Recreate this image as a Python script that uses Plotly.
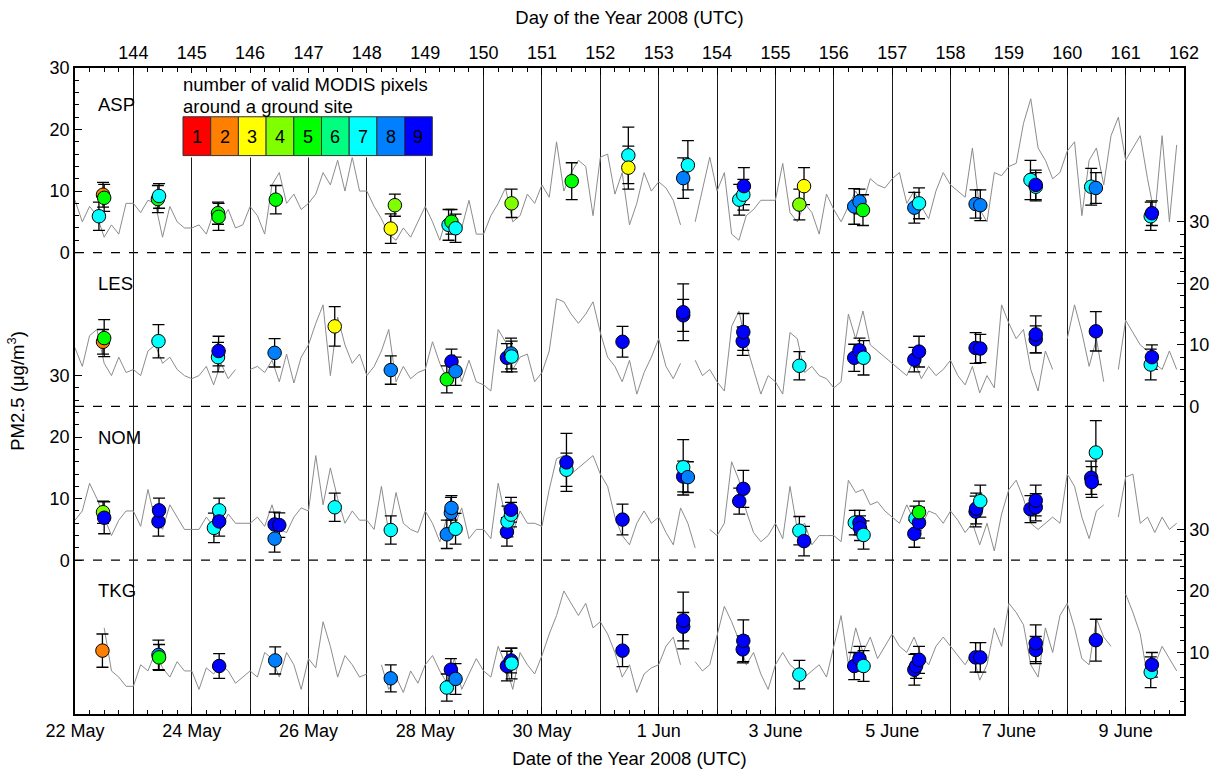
import plotly.graph_objects as go

# ---------------- data ----------------
SITES = ["ASP", "LES", "NOM", "TKG"]
PANEL_OFFSET = {"ASP": 75, "LES": 50, "NOM": 25, "TKG": 0}   # stacking offset of each panel (ug/m3)

NPIX_COLORS = ["#FF0000", "#FF8000", "#FFFF00", "#80FF00", "#00FF00",
               "#00FF80", "#00FFFF", "#0080FF", "#0000FF"]
NPIX_LABELS = ["1", "2", "3", "4", "5", "6", "7", "8", "9"]

DATE_TICK_DOY = [143, 145, 147, 149, 151, 153, 155, 157, 159, 161]
DATE_TICK_TEXT = ["22 May", "24 May", "26 May", "28 May", "30 May",
                  "1 Jun", "3 June", "5 June", "7 June", "9 June"]
DOY_TICKS = list(range(144, 163))
X_START, X_END = 143.0, 162.0

# ground-based PM2.5, 3-hourly from 22 May 00 UTC (day of year 143)
SERIES_START = 143.0
SERIES_STEP_DAYS = 0.125
asp_pm = [8.5, 5, 7.5, 6, 2.5, 4.5, 3, 8,
          8, 6.5, 8.5, 8, 2.5, 7.5, 5, 4,
          4, 4.5, 3, 6.5, 5, 7, 4, 4.5,
          7.5, 6, 3, 11, 13, 8, 9.5, 7,
          8, 9.5, 13, 11, 15, 10, 15.5, 10,
          10, 7.5, 5.5, 3, 2, 4, 2.5, 5,
          7.5, 5, 2, 6, 3, 4, 8.5, 3,
          3, 6, 8, 10.5, 5, 6, 9.5, 8,
          11, 9, 18, 10, 13, 15, 14, 6,
          15.5, 16, 9.5, 13, 4.5, 8, 13, 10,
          11.5, 10.5, 8.5, 4.5, None, 5, 10, 15.5,
          10, 13, 3, 2, 6, 7, 8.5, 8.5,
          8.5, 14.5, 6.5, 5, 8, 6.5, 3, 9.5,
          7, 5, 7.5, 10, 8, 12, 11, 10.5,
          12, 13, 8, 10, 7.5, 5.5, 10, 13,
          11, 10, 9, 17, 7, 5, 13, 12.5,
          14, 14.5, 21, 25, 17, 15, 12, 13,
          16.5, 18, 6, 15, 17, 11, 19, 22,
          15, 17, 19, 12, 6, 19, 5, 17.5]
les_pm = [9.5, 6.5, 11.5, 12.5, 7, 5, 8, 5.5,
          6, 5, 9, 10, 7, 8, 6, 5,
          4.5, 5, 6.5, 3.5, 7, 4.5, 6, None,
          6, 6.5, 5.5, 7.5, 4, 8.5, 3.8, 8,
          10, 13.5, 16.5, 5, 14.5, 10, 7, 8.5,
          5, 6.5, 9, 12.5, 4, 6.5, 4.5, 5.5,
          6, 10.5, 7, 4.5, 8.5, 4, 7.5, 4,
          3.5, 2.5, 12.5, 10.5, 6, 8, 8.5, 4,
          5.5, 9, 17.5, 17, 15, 13.5, 15, 17,
          12, 8, 6.5, 4, 7.5, 2, 5.5, 8,
          11, 6.5, 4.5, 7, None, 7.5, 5, 6,
          4, 2.5, 13, 15.5, 10, 6, 2, 5,
          4, 2, 12, 11, 5.5, 6.5, 5, 4.5,
          3, 4, 15, 11, 15.5, 10, 9, 8,
          7, 6, 5, 7.5, 4.5, 6.5, 5, 6,
          7.5, 5, 3.5, 6.5, 2.2, 5, 3, 16.5,
          13.5, 11, 12.5, 6, 2.5, 9, 6, None,
          11, 16.5, 12, 6.5, 11, 4, None, 6,
          14, 12, 10, 9, 7, 6, 9, 6]
nom_pm = [6.5, 8, 12.5, 10, 7, 4, 6.5, 8,
          8, 5.5, 11.5, 6.5, 5, 9, 7, 5,
          5, 5, 7, 5.5, 5, 7.5, 6, 6,
          6, 7, 5.5, 9, 5, 4.5, 7, 8.5,
          8, 17, 9, 15, 10, 6, 8, 6.5,
          6.5, 5, 12, 4.5, 11, 6, 5, 4.5,
          8, 6, 3, 7, 5.5, 8.5, 3.5, 5,
          5, 3.5, 12.5, 7, 4.5, 8, 6, 6,
          5.5, 11.5, 16.5, 17, 14, 15, 16, 17,
          14, 12, 7, 4, 2.5, 6, 8, 6,
          7, 4.5, 2.5, 8.5, 6, 2, None, 5,
          4, 6, 16, 13, 8, 4.5, 3, 4,
          6, 3.5, 12, 5, 6, 2.5, 4, 4,
          4, 3, 13, 11, 11.5, 9, 9.5, 8,
          7, 6, 9, 6.5, 5.5, 8, 7.5, 6,
          8, 6.5, 4.5, 6, 2.5, 6, 1.5, 7.5,
          11.5, 13, 10, 6, 5, 6, 7, 6,
          14, 12, 7, 3.5, 8, 9, None, 7,
          13.5, 14, 6, 7, 4.5, 7, 5, 6]
tkg_pm = [None, None, None, None, 14, 7, 6, 4.5,
          4.5, 8, 7, 10, 7.5, 6, 8.5, 7,
          7, 4, 7.5, 6.5, 8, 7, 5, 6,
          7, 6, 10, 9, 6, 10, 8, 4,
          9, 7.5, 15, 11, 6, 9.5, 8, 6,
          6.5, None, 8, 4, 6, 3.5, 7, 5,
          8, 9.5, 7, 5, 9, 4, 6.5, 9,
          7, 6, 11, 8, 4, 10, 8, 6.5,
          9.5, 13, 16, 20, 18, 16, 18, 14,
          15, 13, 10, 6, 8, 3.5, 6.5, 7.5,
          8, 11, 12.5, 8, None, 8.5, 7, 8,
          13, 17.5, 15, 12, 8, 10, 6.5, 4,
          8, 10, 8, 7, 6, 7, 8, 6,
          11, 16, 8, 14, 10, 12.5, 9, 11,
          13, 11, 10, 12.5, 9.5, 8, 11, 12.5,
          11, 9.5, 8, 10, 5.5, 8, 14, 11,
          18, 16.5, 14.5, 8, 6, 14, 10, 16,
          18, 14, 9, 8, 15.5, 12.5, 11, None,
          19.5, 16.5, 13, 6, 8, 11, 9, 7]

# MODIS-derived PM2.5 retrievals: time (day of year), value, error, number of valid pixels
asp_x = [143.41, 143.48, 143.50, 144.42, 144.44, 145.45, 145.46, 146.44, 148.41, 148.48,
         149.40, 149.45, 149.52, 150.48, 151.51, 152.48, 152.48, 153.42, 153.50,
         154.38, 154.45, 154.46, 155.41, 155.49, 156.35, 156.44, 156.50, 157.38, 157.46,
         158.43, 158.51, 159.37, 159.46, 159.46, 160.41, 160.49, 161.43, 161.45]
asp_val = [5.9, 9.4, 8.9, 8.7, 9.2, 6.4, 5.8, 8.6, 3.9, 7.7,
           4.5, 5.0, 3.95, 8.0, 11.6, 15.8, 13.8, 12.1, 14.2,
           8.6, 9.4, 10.8, 7.8, 10.8, 7.5, 8.3, 6.9, 7.3, 8.0,
           7.9, 7.7, 11.8, 10.7, 11.0, 10.7, 10.5, 5.9, 6.4]
asp_err = [2.3, 2.0, 2.2, 2.2, 2.0, 1.8, 2.2, 2.3, 2.4, 1.8,
           2.5, 2.0, 2.3, 2.3, 3.0, 4.6, 3.5, 3.3, 4.0,
           2.5, 2.5, 3.0, 2.5, 3.0, 2.9, 2.0, 2.5, 2.5, 2.5,
           2.3, 2.5, 3.2, 2.3, 2.4, 3.0, 2.5, 2.3, 2.0]
asp_npix = [7, 2, 5, 5, 7, 5, 5, 5, 3, 4,
            7, 5, 7, 4, 5, 7, 3, 8, 7,
            7, 7, 9, 4, 3, 8, 8, 5, 8, 7,
            8, 8, 7, 7, 9, 7, 8, 7, 9]

les_x = [143.48, 143.50, 144.43, 145.45, 145.46, 146.42, 147.45, 148.41,
         149.37, 149.45, 149.52, 150.40, 150.47, 150.48, 152.38, 153.42, 153.42,
         154.44, 154.45, 155.41, 156.35, 156.44, 156.51, 157.38, 157.46,
         158.43, 158.51, 159.46, 159.46, 160.49, 161.43, 161.45]
les_val = [10.5, 11.1, 10.6, 8.0, 9.0, 8.7, 13.0, 5.9,
           4.4, 7.3, 5.7, 7.9, 8.6, 8.1, 10.5, 14.8, 15.3,
           10.6, 12.1, 6.6, 7.9, 9.1, 7.9, 7.6, 8.9,
           9.5, 9.4, 10.9, 11.7, 12.2, 6.8, 8.0]
les_err = [2.0, 3.0, 2.7, 2.4, 2.4, 2.3, 3.2, 2.3,
           2.2, 2.0, 2.3, 2.3, 2.5, 2.5, 2.5, 2.6, 4.6,
           2.3, 3.0, 2.3, 2.2, 2.0, 2.8, 2.0, 2.5,
           2.5, 2.3, 2.2, 3.0, 3.2, 2.5, 2.0]
les_npix = [2, 5, 7, 7, 9, 8, 3, 8,
            5, 9, 8, 9, 8, 7, 9, 9, 9,
            9, 9, 7, 9, 9, 7, 9, 9,
            9, 9, 9, 9, 9, 7, 9]

nom_x = [143.48, 143.50, 144.43, 144.44, 145.38, 145.47, 145.47, 146.42, 146.50, 146.42,
         147.45, 148.41, 149.37, 149.44, 149.45, 149.52, 150.40, 150.41, 150.47, 150.47,
         151.42, 151.42, 152.38, 153.42, 153.42, 153.50, 154.38, 154.45, 155.41, 155.49,
         156.36, 156.44, 156.45, 156.51, 157.38, 157.40, 157.46, 157.46,
         158.43, 158.44, 158.51, 159.37, 159.46, 159.46, 160.41, 160.42, 160.49]
nom_val = [7.8, 6.9, 6.3, 8.1, 5.25, 8.1, 6.3, 5.8, 5.7, 3.5,
           8.6, 4.9, 4.2, 7.7, 8.5, 5.1, 4.6, 6.3, 7.4, 8.2,
           14.7, 15.9, 6.6, 13.6, 15.1, 13.5, 9.6, 11.6, 4.8, 3.1,
           6.1, 6.1, 5.2, 4.1, 4.3, 6.8, 6.1, 7.8,
           7.9, 8.4, 9.6, 8.3, 8.6, 9.7, 13.4, 12.7, 17.5]
nom_err = [1.8, 2.6, 2.4, 2.0, 2.4, 2.0, 2.4, 2.0, 2.0, 2.2,
           2.3, 2.3, 2.3, 2.5, 2.0, 2.5, 2.3, 2.5, 2.0, 2.0,
           2.7, 4.7, 2.5, 2.5, 4.5, 2.5, 2.1, 3.0, 2.3, 2.4,
           2.0, 2.0, 2.0, 2.3, 2.2, 2.0, 2.5, 1.8,
           2.5, 2.5, 2.6, 2.2, 2.2, 2.5, 2.7, 2.5, 5.2]
nom_npix = [4, 9, 9, 9, 7, 7, 9, 9, 9, 8,
            7, 7, 8, 8, 8, 7, 9, 7, 7, 9,
            7, 9, 9, 9, 7, 8, 9, 9, 7, 9,
            7, 9, 9, 7, 9, 7, 9, 5,
            9, 9, 7, 9, 9, 9, 9, 9, 7]

tkg_x = [143.47, 144.43, 144.44, 145.47, 146.43, 148.41,
         149.37, 149.44, 149.52, 150.40, 150.47, 150.48, 152.38, 153.42, 153.42,
         154.44, 154.45, 155.41, 156.35, 156.44, 156.51, 157.38, 157.41, 157.46,
         158.43, 158.51, 159.46, 159.46, 160.49, 161.43, 161.45]
tkg_val = [10.3, 9.6, 9.2, 7.8, 8.7, 5.8,
           4.3, 7.2, 5.7, 7.8, 8.7, 8.2, 10.3, 14.2, 15.2,
           10.5, 11.9, 6.4, 7.8, 9.0, 7.8, 7.2, 7.8, 8.8,
           9.2, 9.2, 10.4, 11.5, 12.0, 6.8, 8.0]
tkg_err = [2.7, 2.4, 2.1, 2.0, 2.2, 2.2,
           2.2, 1.8, 2.5, 2.4, 2.0, 2.5, 2.6, 2.3, 4.6,
           2.2, 3.4, 2.3, 2.2, 2.0, 2.5, 2.5, 2.0, 2.2,
           2.4, 2.4, 2.2, 3.0, 3.4, 2.5, 2.0]
tkg_npix = [2, 8, 5, 9, 8, 8,
            7, 9, 8, 9, 9, 7, 9, 9, 9,
            9, 9, 7, 9, 9, 7, 9, 9, 9,
            9, 9, 9, 9, 9, 7, 9]

PM_SERIES = {"ASP": asp_pm, "LES": les_pm, "NOM": nom_pm, "TKG": tkg_pm}
MODIS = {"ASP": (asp_x, asp_val, asp_err, asp_npix),
         "LES": (les_x, les_val, les_err, les_npix),
         "NOM": (nom_x, nom_val, nom_err, nom_npix),
         "TKG": (tkg_x, tkg_val, tkg_err, tkg_npix)}

# ---------------- layout geometry ----------------
W, H = 1225, 778
ML, MR, MT, MB = 75, 41, 68, 61
PW, PH = W - ML - MR, H - MT - MB
FONT = "Liberation Sans, Arial, Helvetica, sans-serif"
FS = 18
FS_T = 18.5


def px_x(px):
    return (px - ML) / PW


def px_y(py):
    return (H - MB - py) / PH


fig = go.Figure()

# ground-site PM2.5 (gray lines) on the base subplot
for site in SITES:
    vals = PM_SERIES[site]
    off = PANEL_OFFSET[site]
    xs = [SERIES_START + i * SERIES_STEP_DAYS for i in range(len(vals))]
    ys = [None if v is None else v + off for v in vals]
    fig.add_trace(go.Scatter(x=xs, y=ys, mode="lines", xaxis="x", yaxis="y",
                             line=dict(color="#8c8c8c", width=1),
                             connectgaps=False, showlegend=False, hoverinfo="skip"))

# MODIS points with error bars on the overlay subplot (drawn on top)
for site in SITES:
    xs, vals, errs, npix = MODIS[site]
    off = PANEL_OFFSET[site]
    fig.add_trace(go.Scatter(
        x=xs, y=[v + off for v in vals], mode="markers", xaxis="x2", yaxis="y2",
        error_y=dict(type="data", array=errs, color="black", thickness=1.3, width=6),
        marker=dict(size=13.5, color=[NPIX_COLORS[n - 1] for n in npix],
                    line=dict(color="black", width=1)),
        showlegend=False, name=site))

# ---------------- axes ----------------
minor_x = [X_START + 0.25 * k for k in range(int((X_END - X_START) * 4) + 1)]

left_panels = ["ASP", "NOM"]
right_panels = ["LES", "TKG"]
left_vals, left_text, left_minor = [], [], []
for s in left_panels:
    for t in (0, 10, 20, 30):
        left_vals.append(PANEL_OFFSET[s] + t)
        left_text.append(str(t))
    left_minor += [PANEL_OFFSET[s] + t for t in range(0, 31, 2)]
right_vals, right_text, right_minor = [], [], []
for s in right_panels:
    for t in (0, 10, 20, 30):
        if s == "TKG" and t == 0:
            continue
        right_vals.append(PANEL_OFFSET[s] + t)
        right_text.append(str(t))
    right_minor += [PANEL_OFFSET[s] + t for t in range(0, 31, 2)]

axis_common = dict(showline=True, linecolor="black", linewidth=1.5, zeroline=False,
                   tickfont=dict(family=FONT, size=FS, color="black"),
                   ticks="inside", tickcolor="black", ticklen=7, tickwidth=1)

fig.update_layout(
    width=W, height=H,
    margin=dict(l=ML, r=MR, t=MT, b=MB, pad=0),
    paper_bgcolor="white", plot_bgcolor="white",
    font=dict(family=FONT, size=FS, color="black"),
    xaxis=dict(range=[X_START, X_END], tickmode="array", tickvals=DATE_TICK_DOY, ticktext=DATE_TICK_TEXT,
               showgrid=False,
               minor=dict(tickmode="array", tickvals=minor_x, ticks="inside", ticklen=4,
                          tickcolor="black", showgrid=False),
               title=dict(text="Date of the Year 2008 (UTC)", font=dict(family=FONT, size=FS_T), standoff=12),
               **axis_common),
    xaxis2=dict(range=[X_START, X_END], overlaying="x", side="top", tickmode="array",
                tickvals=DOY_TICKS, ticktext=[str(d) for d in DOY_TICKS],
                showgrid=True, gridcolor="#1a1a1a", gridwidth=1.2, ticklabelstandoff=0,
                minor=dict(tickmode="array", tickvals=minor_x, ticks="inside", ticklen=4,
                           tickcolor="black", showgrid=False),
                title=dict(text="Day of the Year 2008 (UTC)", font=dict(family=FONT, size=FS_T), standoff=14),
                **axis_common),
    yaxis=dict(range=[0, 105], tickmode="array", tickvals=left_vals, ticktext=left_text,
               showgrid=False,
               minor=dict(tickmode="array", tickvals=left_minor, ticks="inside", ticklen=4,
                          tickcolor="black", showgrid=False),
               title=dict(text="PM2.5 (μg/m<sup>3</sup>)", font=dict(family=FONT, size=FS_T), standoff=20),
               **axis_common),
    yaxis2=dict(range=[0, 105], overlaying="y", side="right", tickmode="array",
                tickvals=right_vals, ticktext=right_text, showgrid=False,
                minor=dict(tickmode="array", tickvals=right_minor, ticks="inside", ticklen=4,
                           tickcolor="black", showgrid=False),
                **axis_common),
)

shapes = []
# dashed zero lines between panels
for s in ["ASP", "LES", "NOM"]:
    shapes.append(dict(type="line", xref="paper", yref="y", x0=0, x1=1,
                       y0=PANEL_OFFSET[s], y1=PANEL_OFFSET[s],
                       line=dict(color="black", width=1.3, dash="dash"), layer="between"))

# colour key (number of valid MODIS pixels)
shapes.append(dict(type="rect", xref="paper", yref="paper",
                   x0=px_x(178), x1=px_x(441), y0=px_y(158), y1=px_y(73),
                   fillcolor="white", line=dict(width=0), layer="above"))
box_w = 27.7
box_x0 = 183
annotations = []
for i, (c, lab) in enumerate(zip(NPIX_COLORS, NPIX_LABELS)):
    x0 = box_x0 + i * box_w
    shapes.append(dict(type="rect", xref="paper", yref="paper",
                       x0=px_x(x0), x1=px_x(x0 + box_w), y0=px_y(156), y1=px_y(117),
                       fillcolor=c, line=dict(color="#333333", width=1), layer="above"))
    annotations.append(dict(xref="paper", yref="paper", x=px_x(x0 + box_w / 2), y=px_y(137),
                            text=lab, showarrow=False, xanchor="center", yanchor="middle",
                            font=dict(family=FONT, size=FS, color="black")))
annotations.append(dict(xref="paper", yref="paper", x=px_x(181), y=px_y(85),
                        text="number of valid MODIS pixels", showarrow=False,
                        xanchor="left", yanchor="middle", font=dict(family=FONT, size=FS_T)))
annotations.append(dict(xref="paper", yref="paper", x=px_x(181), y=px_y(107),
                        text="around a ground site", showarrow=False,
                        xanchor="left", yanchor="middle", font=dict(family=FONT, size=FS_T)))

# site labels
SITE_LABEL_LEVEL = {"ASP": 24, "LES": 20, "NOM": 20, "TKG": 20}
for s in SITES:
    annotations.append(dict(xref="paper", yref="y", x=px_x(96), y=PANEL_OFFSET[s] + SITE_LABEL_LEVEL[s],
                            text=s, showarrow=False, xanchor="left", yanchor="middle",
                            font=dict(family=FONT, size=FS_T)))

fig.update_layout(shapes=shapes, annotations=annotations)

fig.write_html("out.html", config={"displayModeBar": False},
               post_script="document.body.style.margin='0';")
